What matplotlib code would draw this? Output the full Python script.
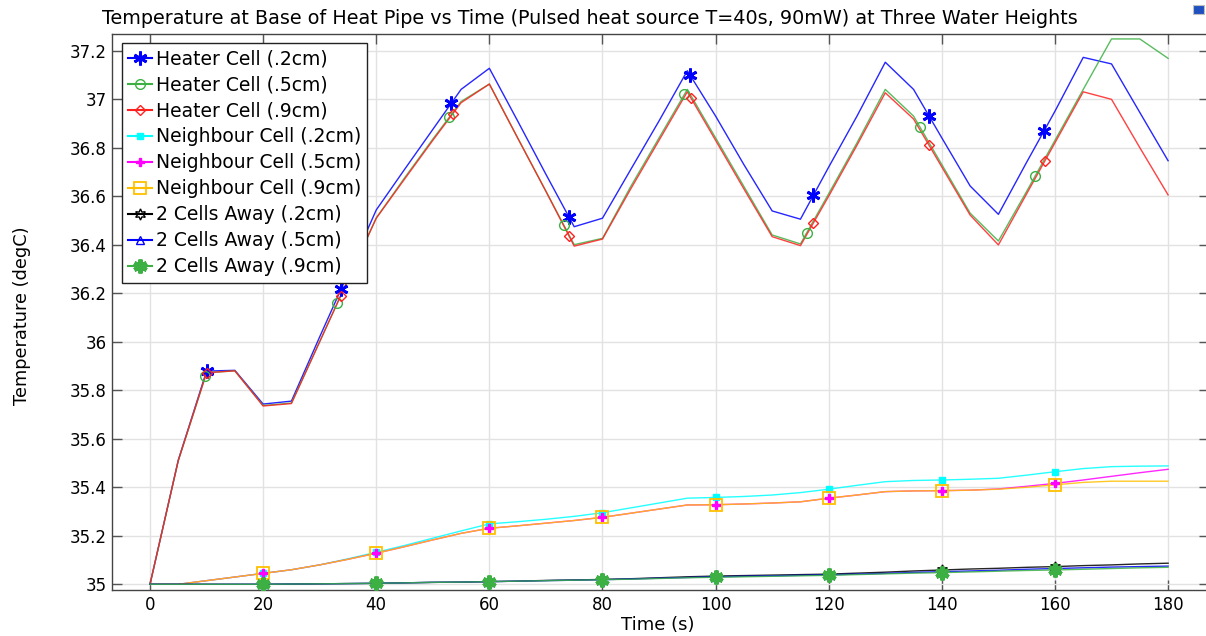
import numpy as np
import matplotlib
matplotlib.use("Agg")
import matplotlib.pyplot as plt
from matplotlib.lines import Line2D
from matplotlib.patches import Rectangle

# --- data ---
time = np.arange(0, 181, 5)

heater_02 = [35.0, 35.512, 35.879, 35.882, 35.743, 35.755, 36.02, 36.28, 36.543, 36.71,
             36.875, 37.04, 37.127, 36.91, 36.69, 36.474, 36.509, 36.71, 36.91, 37.117,
             36.93, 36.73, 36.539, 36.505, 36.72, 36.93, 37.152, 37.04, 36.84, 36.642,
             36.525, 36.74, 36.95, 37.172, 37.145, 36.945, 36.746]
heater_05 = [35.0, 35.51, 35.872, 35.88, 35.737, 35.747, 36.0, 36.255, 36.51, 36.675,
             36.835, 36.99, 37.062, 36.84, 36.62, 36.40, 36.426, 36.64, 36.84, 37.04,
             36.84, 36.64, 36.44, 36.403, 36.61, 36.82, 37.04, 36.93, 36.73, 36.53,
             36.415, 36.62, 36.83, 37.04, 37.248, 37.248, 37.168]
heater_09 = [35.0, 35.51, 35.872, 35.88, 35.735, 35.745, 36.0, 36.255, 36.509, 36.67,
             36.83, 36.985, 37.062, 36.84, 36.62, 36.394, 36.423, 36.63, 36.83, 37.03,
             36.83, 36.63, 36.433, 36.396, 36.60, 36.81, 37.026, 36.918, 36.72, 36.522,
             36.399, 36.61, 36.82, 37.03, 36.999, 36.80, 36.605]

neigh_02 = [35.0, 35.0, 35.015, 35.03, 35.045, 35.06, 35.08, 35.105, 35.132, 35.16,
            35.19, 35.22, 35.249, 35.258, 35.268, 35.28, 35.295, 35.315, 35.335, 35.355,
            35.358, 35.362, 35.368, 35.378, 35.392, 35.408, 35.423, 35.428, 35.43, 35.433,
            35.437, 35.45, 35.464, 35.477, 35.485, 35.487, 35.488]
neigh_05 = [35.0, 35.0, 35.015, 35.03, 35.045, 35.06, 35.08, 35.103, 35.128, 35.155,
            35.183, 35.21, 35.231, 35.241, 35.252, 35.263, 35.276, 35.293, 35.31, 35.327,
            35.328, 35.331, 35.335, 35.34, 35.355, 35.368, 35.382, 35.385, 35.386, 35.388,
            35.393, 35.404, 35.416, 35.43, 35.445, 35.46, 35.474]
neigh_09 = [35.0, 35.0, 35.015, 35.03, 35.045, 35.06, 35.08, 35.103, 35.128, 35.155,
            35.183, 35.21, 35.231, 35.241, 35.252, 35.263, 35.276, 35.293, 35.31, 35.327,
            35.328, 35.331, 35.335, 35.34, 35.355, 35.368, 35.382, 35.385, 35.386, 35.388,
            35.392, 35.40, 35.41, 35.42, 35.425, 35.425, 35.425]

away_02 = [35.0, 35.0, 35.0, 35.0, 35.0, 35.001, 35.002, 35.003, 35.004, 35.006,
           35.008, 35.009, 35.011, 35.013, 35.016, 35.018, 35.02, 35.023, 35.027, 35.031,
           35.034, 35.036, 35.038, 35.04, 35.042, 35.046, 35.05, 35.055, 35.059, 35.063,
           35.066, 35.07, 35.073, 35.077, 35.08, 35.084, 35.087]
away_05 = [35.0, 35.0, 35.0, 35.0, 35.0, 35.001, 35.002, 35.003, 35.004, 35.006,
           35.008, 35.009, 35.011, 35.013, 35.015, 35.017, 35.019, 35.022, 35.025, 35.028,
           35.031, 35.033, 35.035, 35.037, 35.039, 35.042, 35.045, 35.049, 35.052, 35.055,
           35.058, 35.062, 35.065, 35.068, 35.071, 35.073, 35.075]
away_09 = [35.0, 35.0, 35.0, 35.0, 35.0, 35.001, 35.002, 35.003, 35.004, 35.006,
           35.008, 35.009, 35.011, 35.013, 35.015, 35.017, 35.019, 35.021, 35.024, 35.027,
           35.029, 35.031, 35.033, 35.035, 35.037, 35.04, 35.043, 35.046, 35.048, 35.051,
           35.054, 35.057, 35.059, 35.062, 35.065, 35.068, 35.07]

# where the markers sit along each curve (time in s)
mk_heater_02 = [10, 33.8, 53.3, 74.1, 95.5, 117.3, 137.7, 158.1]
mk_heater_05 = [9.8, 33.1, 52.9, 73.2, 94.5, 116.1, 136.1, 156.5]
mk_heater_09 = [10, 33.7, 53.5, 74.1, 95.6, 117.3, 137.7, 158.2]
mk_every20 = [20, 40, 60, 80, 100, 120, 140, 160]

labels = ["Heater Cell (.2cm)", "Heater Cell (.5cm)", "Heater Cell (.9cm)",
          "Neighbour Cell (.2cm)", "Neighbour Cell (.5cm)", "Neighbour Cell (.9cm)",
          "2 Cells Away (.2cm)", "2 Cells Away (.5cm)", "2 Cells Away (.9cm)"]

series = [heater_02, heater_05, heater_09, neigh_02, neigh_05, neigh_09,
          away_02, away_05, away_09]
marks = [mk_heater_02, mk_heater_05, mk_heater_09,
         mk_every20, mk_every20, mk_every20, mk_every20, mk_every20, mk_every20]

# line colour, marker, marker size, filled?, marker edge width
styles = [
    ("#0000ff", (6, 2, 0), 10, True, 2.0),
    ("#3cb043", "o", 7, False, 1.0),
    ("#ff2020", "D", 5, False, 1.0),
    ("#00ffff", "s", 5, True, 1.0),
    ("#ff00ff", "P", 6, True, 1.0),
    ("#ffbf00", "s", 8, False, 1.3),
    ("#000000", (6, 1, 0), 8, False, 1.0),
    ("#0000ff", "^", 6, False, 1.0),
    ("#3cb043", (6, 2, 0), 10, True, 3.0),
]

W, H = 1206, 636
fig = plt.figure(figsize=(W / 100, H / 100), dpi=100)
ax_l, ax_r, ax_t, ax_b = 112, 1209, 34, 590
ax = fig.add_axes([ax_l / W, 1 - ax_b / H, (ax_r - ax_l) / W, (ax_b - ax_t) / H])

handles = []
for y, mk_t, lab, (col, mk, ms, filled, mew) in zip(series, marks, labels, styles):
    y = np.array(y)
    ax.plot(time, y, color=col, lw=1.0, alpha=0.85, zorder=3)
    mt = np.array(mk_t)
    fc = col if filled else "none"
    ax.plot(mt, np.interp(mt, time, y), ls="none", marker=mk, ms=ms,
            mfc=fc, mec=col, mew=mew, zorder=4)
    handles.append(Line2D([], [], color=col, lw=1.5, marker=mk, ms=ms,
                          mfc=fc, mec=col, mew=mew, label=lab))

ax.set_xlim((ax_l - 150) / 5.656, (ax_r - 150) / 5.656)
ax.set_ylim(35 - (ax_b - 584.3) / 242.6, 35 + (584.3 - ax_t) / 242.6)
ax.set_xticks(np.arange(0, 181, 20))
yt = np.round(np.arange(35, 37.21, 0.2), 1)
ax.set_yticks(yt)
ax.set_yticklabels(["%g" % v for v in yt])

ax.grid(True, color="#e2e2e2", lw=1.0, zorder=0)
ax.set_axisbelow(True)
ax.tick_params(direction="in", top=True, right=True, length=7, width=1,
               color="#555555", labelsize=12, pad=4)
for s in ax.spines.values():
    s.set_color("#444444")
    s.set_linewidth(1.0)

fig.text(590 / W, 1 - 18 / H,
         "Temperature at Base of Heat Pipe vs Time (Pulsed heat source T=40s, 90mW) at Three Water Heights",
         ha="center", va="center", fontsize=13.75)
fig.text(658 / W, 1 - 625 / H, "Time (s)", ha="center", va="center", fontsize=13)
fig.text(22 / W, 1 - 316 / H, "Temperature (degC)", ha="center", va="center",
         rotation=90, fontsize=12.8)

leg = ax.legend(handles=handles, loc="upper left",
                bbox_to_anchor=((122 - ax_l) / (ax_r - ax_l), (ax_b - 43) / (ax_b - ax_t)),
                borderaxespad=0, fontsize=13.5, numpoints=1, handlelength=1.25,
                handletextpad=0.22, labelspacing=0.375, borderpad=0.33,
                fancybox=False, framealpha=1, edgecolor="#222222")
leg.get_frame().set_linewidth(1.0)
leg.set_zorder(10)

# small app icon in the top right corner
fig.patches.append(Rectangle((1193 / W, 1 - 14 / H), 11 / W, 9 / H,
                             transform=fig.transFigure, facecolor="#2050c0",
                             edgecolor="#c0c0c0", lw=0.8))

fig.savefig("out.png", dpi=100)
